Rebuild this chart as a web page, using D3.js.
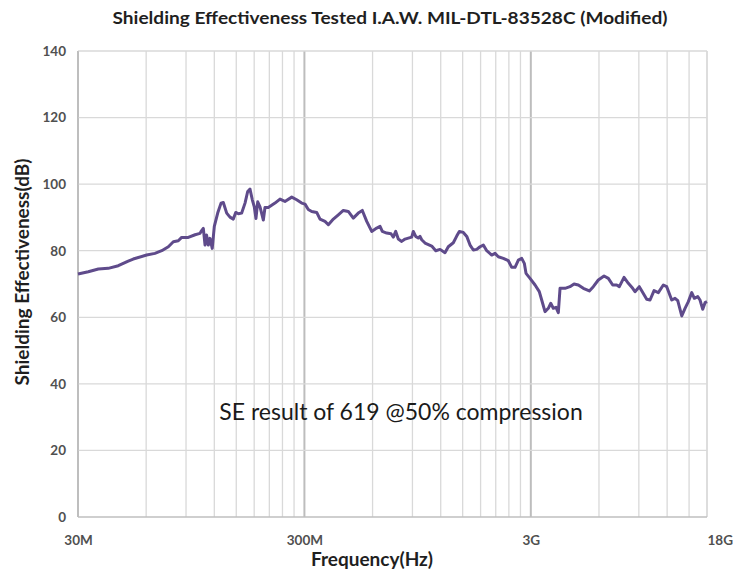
<!DOCTYPE html>
<html>
<head>
<meta charset="utf-8">
<script src="https://cdn.jsdelivr.net/npm/d3@7"></script>
<style>
  html, body { margin: 0; padding: 0; background: #fff; }
  svg { display: block; }
</style>
</head>
<body>
<svg id="chart" width="733" height="573"></svg>
<script>
// Frequencies in MHz
const freqMHz = [30, 33.3, 36.9, 40.8, 45.2, 50.0, 52.6, 60.3, 65.6, 70.3, 75.2, 79.1, 83.2, 86.1, 92.1, 98.7, 103.8,
  104.7, 107.3, 109.2, 110.9, 112.9, 114.8, 117.5, 120.0, 124.2, 128.5, 131.5, 136.1, 140.7, 145.6, 149.2, 153.2, 158.5,
  164.0, 168.5, 172.5, 176.6, 180.2, 183.3, 186.6, 191.0, 194.1, 197.6, 200.9, 207.8, 222.4, 234.0, 246.1, 263.7, 277.4, 291.8,
  301.9, 312.1, 323.2, 340.0, 351.6, 369.9, 382.7, 402.7, 423.6, 445.6, 468.8, 493.2, 518.9, 540.6, 565.4, 594.8, 625.7,
  647.5, 662.5, 692.7, 723.9, 741.0, 759.3, 779.5, 807.0, 834.6, 863.0, 893.4, 908.0, 930.5, 955.3, 972.1, 988.9, 1023,
  1095, 1141, 1192, 1253, 1296, 1364, 1412, 1450, 1510, 1564, 1617, 1672, 1730, 1790, 1851, 1916, 2016, 2085, 2156, 2268,
  2387, 2470, 2555, 2643, 2735, 2808, 2857, 2976, 3132, 3270, 3351, 3466, 3585, 3673, 3771, 3876, 3968, 4038, 4248, 4467,
  4656, 4864, 5117, 5440, 5664, 5960, 6318, 6600, 6900, 7187, 7380, 7741, 8088, 8454, 8655, 9042, 9266, 9750, 10085, 10505,
  10973, 11544, 11950, 12573, 13005, 13368, 13924, 14397, 14889, 15413, 15827, 16384, 16766, 17236, 17644, 18000];
// Shielding effectiveness in dB
const seDB = [73.0, 73.7, 74.5, 74.7, 75.5, 76.9, 77.5, 78.7, 79.2, 80.0, 81.2, 82.7, 83.0, 84.0, 84.0, 84.8, 85.2,
  85.7, 86.7, 81.7, 84.7, 81.7, 83.7, 80.7, 87.3, 91.3, 94.3, 94.5, 91.3, 90.1, 89.5, 91.5, 91.1, 91.3,
  94.3, 97.8, 98.5, 95.3, 93.2, 89.7, 94.7, 93.2, 91.3, 89.2, 93.0, 93.0, 94.3, 95.5, 94.8, 96.1, 95.3, 94.3,
  94.0, 92.4, 91.8, 91.5, 89.5, 88.8, 87.8, 89.5, 90.8, 92.1, 91.8, 89.8, 91.3, 92.1, 88.8, 85.8, 86.8,
  87.3, 85.8, 85.3, 85.1, 84.1, 85.8, 83.5, 82.8, 83.5, 83.8, 84.1, 85.8, 84.3, 83.8, 84.3, 83.3, 82.3,
  81.4, 80.0, 80.4, 79.4, 81.2, 82.4, 84.4, 85.8, 85.5, 84.3, 81.7, 80.2, 80.4, 81.2, 81.7, 80.0, 78.7, 79.2, 78.2, 77.7,
  77.0, 75.0, 75.0, 77.2, 77.7, 76.2, 73.2, 71.7, 69.7, 67.7, 65.2, 61.7, 62.7, 64.2, 62.7, 63.0, 61.4, 68.7, 68.7, 69.2,
  70.0, 69.7, 68.7, 67.9, 69.2, 71.2, 72.4, 71.7, 69.7, 69.7, 69.2, 72.0, 70.2, 68.7, 67.7, 69.2, 68.0, 65.4, 65.2, 68.0,
  67.4, 69.7, 69.2, 65.2, 65.7, 65.0, 60.4, 62.7, 64.7, 67.4, 65.7, 66.2, 65.2, 62.4, 64.4, 64.7];

const xTickValues = [30e6, 300e6, 3e9, 18e9];
const xTickLabels = ["30M", "300M", "3G", "18G"];
const yTickValues = [0, 20, 40, 60, 80, 100, 120, 140];
const minorMultipliers = [1, 2, 3, 4, 5, 6, 7, 8, 9];
const decadeBases = [30e6, 300e6, 3e9];

const titleText = "Shielding Effectiveness Tested I.A.W. MIL-DTL-83528C (Modified)";
const xLabel = "Frequency(Hz)";
const yLabel = "Shielding Effectiveness(dB)";
const noteText = "SE result of 619 @50% compression";

(function () {
const svg = d3.select("#chart");
const mLeft = 78, mRight = 707, mTop = 51, mBottom = 517;
const font = "Lato, 'Open Sans', sans-serif";

const x = d3.scaleLog().domain([30e6, 18e9]).range([mLeft, mRight]);
const y = d3.scaleLinear().domain([0, 140]).range([mBottom, mTop]);

// vertical gridlines
const vLines = [];
decadeBases.forEach(b => minorMultipliers.forEach(m => {
  const v = b * m;
  if (v <= 18e9) vLines.push({ v, major: m === 1 });
}));
vLines.push({ v: 18e9, major: false });

svg.append("g").selectAll("line").data(vLines).join("line")
  .attr("x1", d => x(d.v)).attr("x2", d => x(d.v))
  .attr("y1", mTop).attr("y2", mBottom)
  .attr("stroke", d => d.major ? "#bdbdbd" : "#d9d9d9")
  .attr("stroke-width", d => d.major ? 2 : 1.3);

// horizontal gridlines
svg.append("g").selectAll("line").data(yTickValues).join("line")
  .attr("x1", mLeft).attr("x2", mRight)
  .attr("y1", d => y(d)).attr("y2", d => y(d))
  .attr("stroke", d => d === 0 ? "#bfbfbf" : "#d9d9d9")
  .attr("stroke-width", 1.3);

// axis line left
svg.append("line").attr("x1", mLeft).attr("x2", mLeft).attr("y1", mTop).attr("y2", mBottom)
  .attr("stroke", "#bfbfbf").attr("stroke-width", 1.3);

// y tick labels
const yAxis = d3.axisLeft(y).tickValues(yTickValues).tickSize(0).tickPadding(12);
const gy = svg.append("g").attr("transform", `translate(${mLeft},0)`).call(yAxis);
gy.select(".domain").remove();
gy.selectAll("text").attr("font-family", font)
  .attr("font-size", 13.5).attr("font-weight", "bold").attr("fill", "#505050");

// x tick labels
const xAxis = d3.axisBottom(x).tickValues(xTickValues).tickSize(0).tickPadding(18)
  .tickFormat((d, i) => xTickLabels[i]);
const gx = svg.append("g").attr("transform", `translate(0,${mBottom})`).call(xAxis);
gx.select(".domain").remove();
gx.selectAll("text").attr("font-family", font)
  .attr("font-size", 13.5).attr("font-weight", "bold").attr("fill", "#505050")
  .attr("text-anchor", (d, i) => i === xTickLabels.length - 1 ? "start" : "middle");

// line
const data = freqMHz.map((f, i) => ({ f: f * 1e6, v: seDB[i] }));
svg.append("path").datum(data)
  .attr("fill", "none").attr("stroke", "#5f4b8b").attr("stroke-width", 3)
  .attr("stroke-linejoin", "round")
  .attr("d", d3.line().x(d => x(d.f)).y(d => y(d.v)));

// title
svg.append("text").attr("x", 390).attr("y", 24).attr("text-anchor", "middle")
  .attr("font-family", font).attr("font-weight", "bold")
  .attr("font-size", 17.5).attr("fill", "#1f1f1f")
  .attr("textLength", 555).attr("lengthAdjust", "spacingAndGlyphs").text(titleText);

// axis titles
svg.append("text").attr("x", 372).attr("y", 566).attr("text-anchor", "middle")
  .attr("font-family", font).attr("font-weight", "bold")
  .attr("font-size", 19).attr("fill", "#1f1f1f").text(xLabel);

svg.append("text").attr("transform", "translate(29,272) rotate(-90)").attr("text-anchor", "middle")
  .attr("font-family", font).attr("font-weight", "bold")
  .attr("font-size", 19).attr("fill", "#1f1f1f").text(yLabel);

// annotation
svg.append("text").attr("x", 401).attr("y", 420).attr("text-anchor", "middle")
  .attr("font-family", font)
  .attr("font-size", 23).attr("fill", "#1a1a1a").text(noteText);
})();
</script>
</body>
</html>
